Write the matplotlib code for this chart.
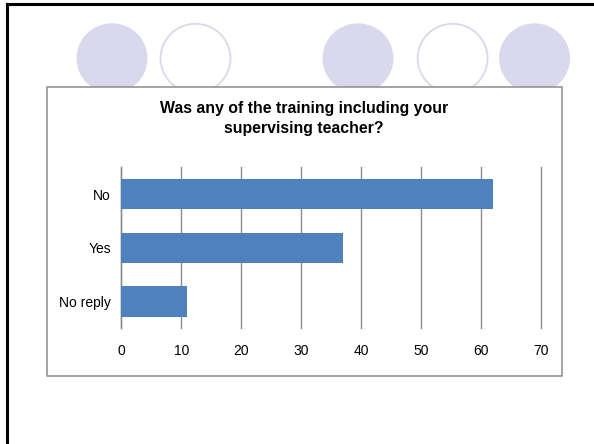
import matplotlib
matplotlib.use("Agg")
import matplotlib.pyplot as plt
from matplotlib.patches import Ellipse, Rectangle
from matplotlib.lines import Line2D

plt.rcParams['font.family'] = ['Liberation Sans', 'DejaVu Sans']

# data
categories = ['No', 'Yes', 'No reply']
values = [62, 37, 11]
x_ticks = [0, 10, 20, 30, 40, 50, 60, 70]
title = 'Was any of the training including your\nsupervising teacher?'

W, H = 594, 444
fig = plt.figure(figsize=(W / 100, H / 100), dpi=100)

def fx(px):
    return px / W

def fy(py):
    return 1 - py / H

# slide decoration: circles across the top
circle_x = [112, 195.5, 358, 452.6, 534.5]
circle_filled = [True, False, True, False, True]
for cx, filled in zip(circle_x, circle_filled):
    if filled:
        e = Ellipse((fx(cx), fy(58.3)), 71 / W, 70 / H, transform=fig.transFigure,
                    facecolor='#d9d8ec', edgecolor='none', zorder=-5)
    else:
        e = Ellipse((fx(cx), fy(58.3)), 70 / W, 69 / H, transform=fig.transFigure,
                    facecolor='white', edgecolor='#d9d8ec', linewidth=1.3, zorder=-5)
    fig.add_artist(e)

# black slide frame (top and left edges)
fig.add_artist(Line2D([fx(7), 1.0], [fy(4), fy(4)], transform=fig.transFigure,
                      color='black', linewidth=2.2, zorder=-1))
fig.add_artist(Line2D([fx(7), fx(7)], [fy(4), 0.0], transform=fig.transFigure,
                      color='black', linewidth=2.2, zorder=-1))

# chart area box
fig.add_artist(Rectangle((fx(46.7), fy(375.7)), (561.7 - 46.7) / W, (375.7 - 87.3) / H,
                         transform=fig.transFigure, facecolor='white',
                         edgecolor='#8c8c8c', linewidth=1.1, zorder=-2))

ax = fig.add_axes([fx(121.3), fy(328.3), (540.7 - 121.3) / W, (328.3 - 167.3) / H])
ax.set_facecolor('none')

ax.barh(range(len(categories)), values, height=0.57, color='#4f81bd', zorder=3)
ax.set_yticks(range(len(categories)))
ax.set_yticklabels(categories)
ax.set_ylim(2.5, -0.5)
ax.set_xlim(0, 70)
ax.set_xticks(x_ticks)

ax.grid(axis='x', color='#8c8c8c', linewidth=1.0, zorder=0)
for gl in ax.get_xgridlines():
    gl.set_clip_on(False)
ax.set_axisbelow(True)
for s in ['top', 'right', 'bottom']:
    ax.spines[s].set_visible(False)
ax.spines['left'].set_color('#8c8c8c')
ax.spines['left'].set_linewidth(1.0)

ax.tick_params(axis='y', length=0, pad=7.5, labelsize=10)
ax.tick_params(axis='x', length=0, pad=11, labelsize=10)

fig.text(fx(304), fy(118.5), title, ha='center', va='center', fontsize=11.4,
         fontweight='bold', linespacing=1.45)

fig.savefig('out.png', dpi=100)
